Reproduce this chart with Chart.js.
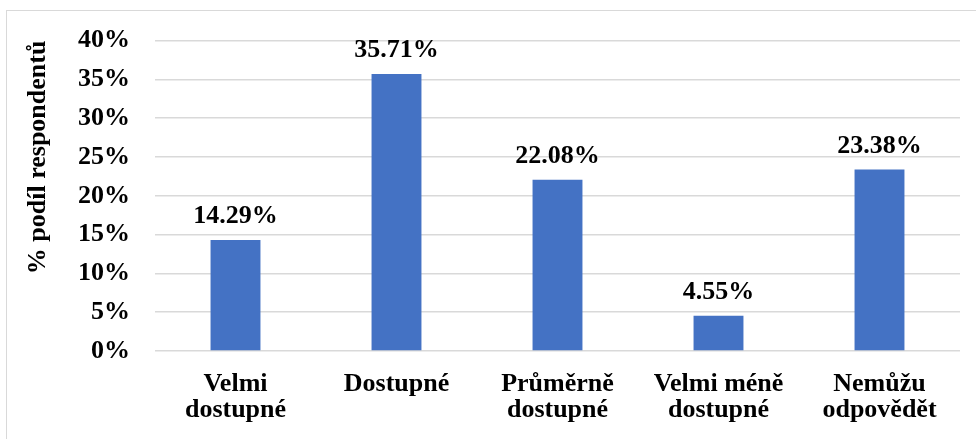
<!DOCTYPE html>
<html>
<head>
<meta charset="utf-8">
<script src="https://cdn.jsdelivr.net/npm/chart.js@4.4.0/dist/chart.umd.min.js"></script>
<style>
    html, body { margin: 0; padding: 0; background: #fff; overflow: hidden; }
    #wrap { position: relative; width: 976px; height: 439px; }
    #frame { position: absolute; left: 6px; top: 10px; width: 1000px; height: 1000px; border: 1px solid #d9d9d9; }
    #chart { position: absolute; left: 0; top: 0; }
</style>
</head>
<body>
<div id="wrap">
    <div id="frame"></div>
    <canvas id="chart" width="976" height="439"></canvas>
</div>
<script>
const categories = [
    ['Velmi', 'dostupné'],
    'Dostupné',
    ['Průměrně', 'dostupné'],
    ['Velmi méně', 'dostupné'],
    ['Nemůžu', 'odpovědět']
];
const shares = [14.29, 35.71, 22.08, 4.55, 23.38];
const yTicks = [0, 5, 10, 15, 20, 25, 30, 35, 40];

const FONT = '"Liberation Serif", "Times New Roman", serif';

// value labels above the bars
const valueLabels = {
    id: 'valueLabels',
    afterDatasetsDraw(chart) {
        const ctx = chart.ctx;
        const meta = chart.getDatasetMeta(0);
        ctx.save();
        ctx.font = 'bold 26px ' + FONT;
        ctx.fillStyle = '#000';
        ctx.textAlign = 'center';
        ctx.textBaseline = 'alphabetic';
        meta.data.forEach((bar, i) => {
            ctx.fillText(shares[i].toFixed(2) + '%', bar.x, bar.y - 17);
        });
        ctx.restore();
    }
};

new Chart(document.getElementById('chart'), {
    type: 'bar',
    data: {
        labels: categories,
        datasets: [{
            data: shares,
            backgroundColor: '#4472C4',
            barPercentage: 0.31,
            categoryPercentage: 1
        }]
    },
    options: {
        responsive: false,
        animation: false,
        events: [],
        layout: { padding: { top: 39, right: 16, left: 0, bottom: 0 } },
        plugins: {
            legend: { display: false },
            tooltip: { enabled: false }
        },
        scales: {
            x: {
                grid: { display: false, drawTicks: false },
                border: { display: false },
                ticks: {
                    color: '#000',
                    font: { family: FONT, size: 26, weight: 'bold', lineHeight: 1.0 },
                    padding: 20,
                    maxRotation: 0,
                    autoSkip: false
                },
                afterFit(scale) { scale.height = 88; }
            },
            y: {
                min: 0,
                max: 40,
                afterBuildTicks(scale) { scale.ticks = yTicks.map(v => ({ value: v })); },
                grid: { color: '#d9d9d9', lineWidth: 1.5, drawTicks: false },
                border: { display: false },
                ticks: {
                    color: '#000',
                    font: { family: FONT, size: 26, weight: 'bold' },
                    padding: 25,
                    callback: v => v + '%'
                },
                title: {
                    display: true,
                    text: '% podíl respondentů',
                    align: 'end',
                    color: '#000',
                    font: { family: FONT, size: 26, weight: 'bold', lineHeight: 1.0 },
                    padding: { top: 25, bottom: 0 }
                },
                afterFit(scale) { scale.width = 155; }
            }
        }
    },
    plugins: [valueLabels]
});
</script>
</body>
</html>
